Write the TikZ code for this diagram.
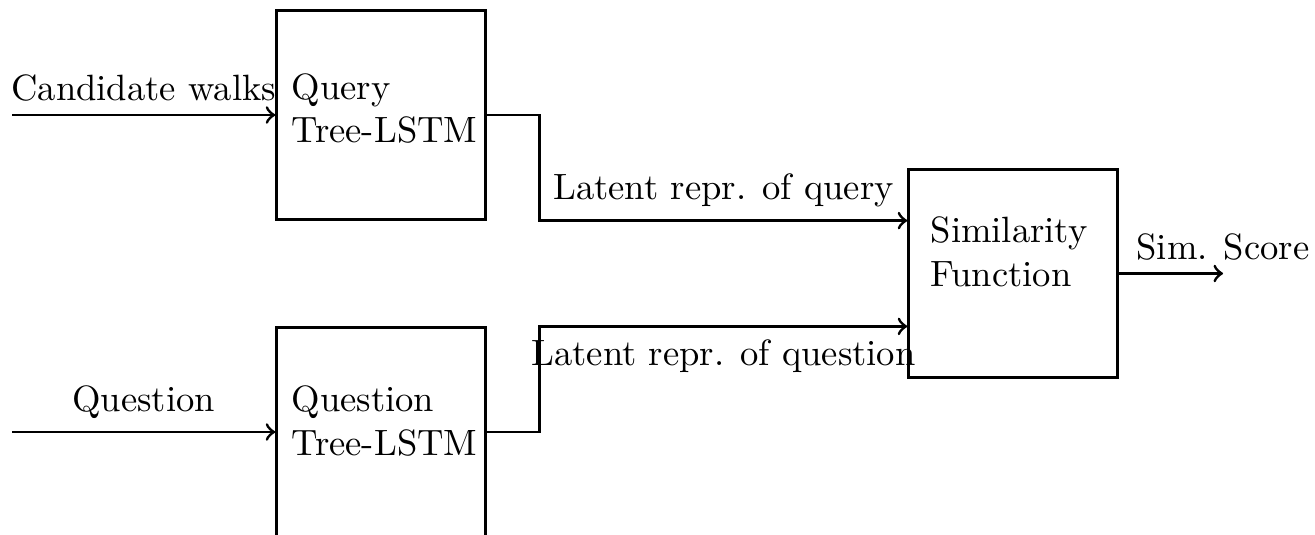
\documentclass[tikz,border=0pt]{standalone}
\usetikzlibrary{calc}
\begin{document}
\begin{tikzpicture}[x=0.2732pt, y=-0.2732pt, thick,
  box/.style={draw, minimum width=57pt, minimum height=57pt, inner sep=0pt},
  boxtext/.style={align=left, anchor=west, inner sep=0pt},
  flow/.style={->}]
  \useasboundingbox (0,0) rectangle (1315,535);

  % processing blocks
  \node[box] (qtree) at (381,115) {};
  \node[box] (qbox)  at (381,432) {};
  \node[box] (sim)   at (1013,273.5) {};

  % block captions
  \node[boxtext] (qtreetxt) at ($(qtree.west)+(15,-6.5)$) {Query\\Tree-LSTM};
  \node[boxtext] (qboxtxt)  at ($(qbox.west)+(15,-11)$) {Question\\Tree-LSTM};
  \node[boxtext] (simtxt)   at ($(sim.west)+(22,-21.5)$) {Similarity\\Function};

  % inputs
  \coordinate (cwin) at (12,115);
  \coordinate (qin)  at (12,432);
  \draw[flow] (cwin) -- node[above] {Candidate walks} (qtree.west);
  \draw[flow] (qin) -- node[above] {Question} (qbox.west);

  % latent representations into the similarity block
  \draw[flow] (qtree.east) -- ++(53,0)
    |- node[pos=0.75, above] {Latent repr. of query}
    ($(sim.north west)!0.25!(sim.south west)$);
  \draw[flow] (qbox.east) -- ++(53,0)
    |- node[pos=0.75, below] {Latent repr. of question}
    ($(sim.south west)!0.25!(sim.north west)$);

  % output
  \coordinate (simout) at (1223,273.5);
  \draw[flow] (sim.east) -- (simout);
  \node[above] (score) at (simout) {Sim. Score};
\end{tikzpicture}
\end{document}
